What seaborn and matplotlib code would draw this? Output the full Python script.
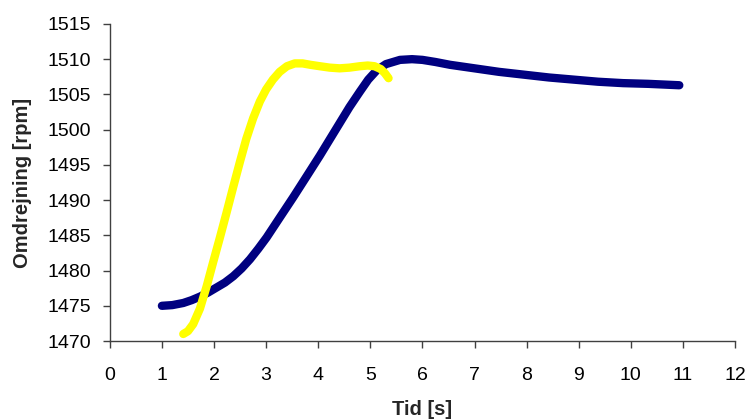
import matplotlib
matplotlib.use("Agg")
import matplotlib.pyplot as plt
import seaborn as sns
import pandas as pd

# Navy series
navy_t = [1.00, 1.20, 1.41, 1.57, 1.73, 1.89, 2.05, 2.21, 2.37, 2.53, 2.69, 2.85, 3.01, 3.26, 3.52, 3.78,
          4.03, 4.22, 4.41, 4.60, 4.80, 4.96, 5.12, 5.30, 5.57, 5.80, 6.00, 6.25, 6.53, 7.00, 7.47, 7.95,
          8.43, 8.90, 9.37, 9.85, 10.33, 10.93]
navy_rpm = [1475.0, 1475.1, 1475.4, 1475.8, 1476.3, 1476.9, 1477.6, 1478.3, 1479.2, 1480.3, 1481.6, 1483.1,
            1484.7, 1487.5, 1490.4, 1493.4, 1496.3, 1498.6, 1500.9, 1503.2, 1505.4, 1507.1, 1508.4, 1509.3,
            1509.9, 1510.0, 1509.9, 1509.6, 1509.2, 1508.7, 1508.2, 1507.8, 1507.4, 1507.1, 1506.8, 1506.6,
            1506.5, 1506.3]

# Yellow series
yellow_t = [1.41, 1.50, 1.60, 1.73, 1.86, 1.98, 2.11, 2.24, 2.37, 2.50, 2.62, 2.75, 2.88, 3.00, 3.13, 3.26,
            3.40, 3.55, 3.70, 3.85, 4.03, 4.22, 4.41, 4.60, 4.80, 4.95, 5.08, 5.20, 5.28, 5.35]
yellow_rpm = [1471.0, 1471.4, 1472.4, 1474.6, 1477.8, 1481.1, 1484.6, 1488.2, 1491.9, 1495.5, 1498.7, 1501.6,
              1504.0, 1505.7, 1507.1, 1508.2, 1509.0, 1509.4, 1509.4, 1509.2, 1509.0, 1508.8, 1508.7, 1508.8,
              1509.0, 1509.1, 1509.0, 1508.6, 1508.0, 1507.3]

x_ticks = list(range(0, 13))
y_ticks = list(range(1470, 1516, 5))

sns.set_theme(style="white")
plt.rcParams['font.family'] = ['Liberation Sans', 'DejaVu Sans']

fig = plt.figure(figsize=(7.47, 4.2), dpi=100)
ax = fig.add_axes([0.147, 0.188, 0.837, 0.755])

navy_df = pd.DataFrame({"t": navy_t, "rpm": navy_rpm})
yellow_df = pd.DataFrame({"t": yellow_t, "rpm": yellow_rpm})

sns.lineplot(data=navy_df, x="t", y="rpm", sort=False, estimator=None, color="#000080",
             linewidth=6, solid_capstyle="round", solid_joinstyle="round", ax=ax)
sns.lineplot(data=yellow_df, x="t", y="rpm", sort=False, estimator=None, color="#FFFF00",
             linewidth=6, solid_capstyle="round", solid_joinstyle="round", ax=ax)

ax.set_xlim(0, 12)
ax.set_ylim(1470, 1515)
ax.set_xticks(x_ticks)
ax.set_yticks(y_ticks)
ax.tick_params(axis="both", direction="out", length=5, width=1, color="#404040",
               labelsize=14, labelcolor="black", bottom=True, left=True)
ax.tick_params(axis="x", pad=13.5)
ax.tick_params(axis="y", pad=8.5)

for s in ["top", "right"]:
    ax.spines[s].set_visible(False)
for s in ["left", "bottom"]:
    ax.spines[s].set_color("#404040")
    ax.spines[s].set_linewidth(1)

ax.set_xlabel("Tid [s]", fontsize=14.5, fontweight="bold")
ax.set_ylabel("Omdrejning [rpm]", fontsize=14.5, fontweight="bold")
ax.xaxis.label.set_va("center")
ax.yaxis.label.set_va("center")
ax.xaxis.set_label_coords(0.5, (341 - 409) / 317)
ax.yaxis.set_label_coords((23 - 110) / 625, 0.5)

fig.savefig("out.png", dpi=100)
